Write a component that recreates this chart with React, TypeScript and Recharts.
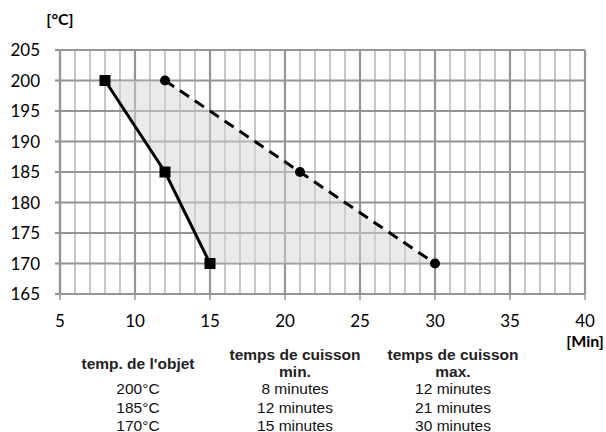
import React from "react";
import {
  ComposedChart,
  Area,
  Line,
  XAxis,
  YAxis,
  CartesianGrid,
} from "recharts";

// object temperature (°C) and cooking times (minutes)
const temps = [200, 185, 170];
const minTimes = [8, 12, 15];
const maxTimes = [12, 21, 30];

const xTicks = [5, 10, 15, 20, 25, 30, 35, 40];
const xMinorTicks = [
  5, 6, 7, 8, 9, 10, 11, 12, 13, 14, 15, 16, 17, 18, 19, 20, 21, 22, 23, 24,
  25, 26, 27, 28, 29, 30, 31, 32, 33, 34, 35, 36, 37, 38, 39, 40,
];
const yTicks = [165, 170, 175, 180, 185, 190, 195, 200, 205];

const headers = ["temp. de l'objet", "temps de cuisson\nmin.", "temps de cuisson\nmax."];

const rows = temps.map((t, i) => ({
  temp: t,
  min: minTimes[i],
  max: maxTimes[i],
  range: [minTimes[i], maxTimes[i]],
}));

const GRID = "#959595";
const MINOR = "#bababa";
const tickFont = { fontFamily: "Lato", fontSize: 17, fill: "#000" };

const Square = (props: any) => {
  const { cx, cy, index } = props;
  if (cx == null || cy == null) return null;
  return <rect key={`sq-${index}`} x={cx - 5.5} y={cy - 5.5} width={11} height={11} fill="#000" />;
};

const Dot = (props: any) => {
  const { cx, cy, index } = props;
  if (cx == null || cy == null) return null;
  return <circle key={`ci-${index}`} cx={cx} cy={cy} r={5} fill="#000" />;
};

// minor vertical grid: one line per minute, placed with the x axis scale
const minorLines = ({ xAxis }: any) => {
  const s = xAxis && xAxis.scale;
  if (!s) return [];
  const fn = typeof s === "function" ? s : s.map ? (v: number) => s.map(v) : null;
  if (!fn) return [];
  return xMinorTicks.map((v) => fn(v));
};

const txt = (x: number, y: number, bold = false): React.CSSProperties => ({
  position: "absolute",
  left: x,
  top: y,
  transform: "translate(-50%, -50%)",
  fontFamily: "'Liberation Sans', Arial, sans-serif",
  fontSize: 15.5,
  fontWeight: bold ? 700 : 400,
  color: bold ? "#222" : "#111",
  whiteSpace: "nowrap",
  textAlign: "center",
  lineHeight: "17px",
});

const colX = [138, 295, 453];
const rowY = [388, 406.5, 425];

export default function App() {
  return (
    <div
      style={{
        position: "absolute",
        left: 0,
        top: 0,
        width: 606,
        height: 432,
        background: "#fff",
        overflow: "hidden",
      }}
    >
      <ComposedChart
        width={606}
        height={432}
        layout="vertical"
        data={rows}
        margin={{ top: 50, right: 21, left: 10, bottom: 78 }}
      >
        <CartesianGrid
          horizontal={false}
          stroke={MINOR}
          strokeWidth={1.6}
          verticalCoordinatesGenerator={minorLines}
        />
        <CartesianGrid stroke={GRID} strokeWidth={2.2} />
        <XAxis
          type="number"
          domain={[5, 40]}
          ticks={xTicks}
          interval={0}
          height={60}
          tick={tickFont}
          tickSize={6}
          tickMargin={15}
          axisLine={{ stroke: GRID, strokeWidth: 2.2 }}
          tickLine={{ stroke: GRID, strokeWidth: 1.5 }}
        />
        <YAxis
          type="number"
          dataKey="temp"
          domain={[165, 205]}
          ticks={yTicks}
          interval={0}
          reversed
          width={50}
          tick={tickFont}
          tickSize={5}
          tickMargin={15}
          axisLine={{ stroke: GRID, strokeWidth: 2.2 }}
          tickLine={{ stroke: GRID, strokeWidth: 2.2 }}
        />
        <Area
          dataKey="range"
          type="linear"
          stroke="none"
          fill="#d6d6d6"
          fillOpacity={0.5}
          isAnimationActive={false}
          activeDot={false}
        />
        <Line
          dataKey="max"
          type="linear"
          stroke="#000"
          strokeWidth={3}
          strokeDasharray="11 7"
          dot={Dot}
          activeDot={false}
          isAnimationActive={false}
        />
        <Line
          dataKey="min"
          type="linear"
          stroke="#000"
          strokeWidth={3}
          dot={Square}
          activeDot={false}
          isAnimationActive={false}
        />
      </ComposedChart>

      <div style={{ ...txt(60, 18, true), fontFamily: "Lato", fontSize: 16, color: "#000" }}>[°C]</div>
      <div style={{ ...txt(585, 340, true), fontFamily: "Lato", fontSize: 16, color: "#000" }}>[Min]</div>

      <div style={txt(colX[0], 363, true)}>{headers[0]}</div>
      {headers.slice(1).map((h, i) => (
        <div key={h + i} style={txt(colX[i + 1], 362.5, true)}>
          {h.split("\n").map((line) => (
            <div key={line}>{line}</div>
          ))}
        </div>
      ))}

      {temps.map((t, i) => (
        <div key={`t-${t}`} style={txt(colX[0], rowY[i])}>{`${t}°C`}</div>
      ))}
      {minTimes.map((m, i) => (
        <div key={`mn-${i}`} style={txt(colX[1], rowY[i])}>{`${m} minutes`}</div>
      ))}
      {maxTimes.map((m, i) => (
        <div key={`mx-${i}`} style={txt(colX[2], rowY[i])}>{`${m} minutes`}</div>
      ))}
    </div>
  );
}
